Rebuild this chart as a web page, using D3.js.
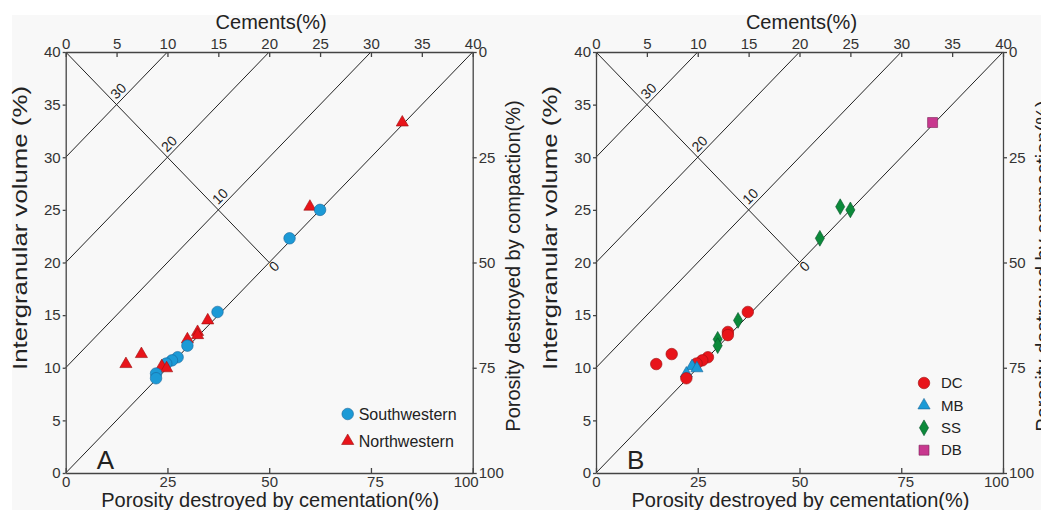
<!DOCTYPE html>
<meta charset="utf-8">
<head>
  <title>IGV vs cement</title>
  <style>
    body { margin: 0; background: #fff; }
    svg text { font-family: "Liberation Sans", Arial, sans-serif; fill: #222; }
    .axis path, .axis line { stroke: #444; stroke-width: 1.3px; }
    .axis text { font-size: 15px; fill: #333; }
    .iso { stroke: #222; stroke-width: 1px; }
  </style>
</head>
<body>
<div id="chart"></div>
<script src="https://cdnjs.cloudflare.com/ajax/libs/d3/7.8.5/d3.min.js"></script>
<script>
// porosity destroyed by cementation (%) and intergranular volume (%) per sample
var porCement = [82.7, 60.0, 62.5, 55.0, 37.3, 34.9, 32.4, 32.4, 29.9, 29.9, 27.5, 26.1, 24.7, 18.6, 14.8, 23.6, 24.8, 22.2, 22.2];
var igv       = [33.3, 25.3, 25.0, 22.3, 15.3, 14.5, 13.4, 13.1, 12.7, 12.1, 11.0, 10.7, 10.4, 11.3, 10.35, 10.15, 9.95, 9.45, 9.0];
var region    = ["NW","NW","SW","SW","SW","NW","NW","NW","NW","SW","SW","SW","SW","NW","NW","NW","NW","SW","SW"];
var facies    = ["DB","SS","SS","SS","DC","SS","DC","DC","SS","SS","DC","DC","DC","DC","DC","MB","MB","MB","DC"];

var regionKeys   = ["SW", "NW"];
var regionLabels = ["Southwestern", "Northwestern"];
var faciesKeys   = ["DC", "MB", "SS", "DB"];

var cementTicks = [0, 5, 10, 15, 20, 25, 30, 35, 40];
var igvTicks    = [0, 5, 10, 15, 20, 25, 30, 35, 40];
var lossTicks   = [0, 25, 50, 75, 100];
var isoLines    = [10, 20, 30, 40];

// marker styles
var styles = {
  SW: {shape: d3.symbolCircle,   size: 105, fill: "#1c9ad6", stroke: "#17649a"},
  NW: {shape: d3.symbolTriangle, size: 64,  fill: "#e8141a", stroke: "#9a1010"},
  DC: {shape: d3.symbolCircle,   size: 105, fill: "#e8141a", stroke: "#9a1010"},
  MB: {shape: d3.symbolTriangle, size: 64,  fill: "#1c9ad6", stroke: "#17649a"},
  SS: {shape: d3.symbolDiamond,  size: 72,  fill: "#0c8a3a", stroke: "#05532a"},
  DB: {shape: d3.symbolSquare,   size: 100, fill: "#c8388f", stroke: "#7a2458"}
};

var width = 1041, height = 510;
var W = 407, H = 421, plotTop = 52;

var svg = d3.select("#chart").append("svg")
  .attr("width", width)
  .attr("height", height);

svg.append("rect")
  .attr("x", 12).attr("y", 15)
  .attr("width", width - 12).attr("height", height - 15)
  .attr("fill", "#f8f8f8");

var points = porCement.map(function (v, i) {
  return {loss: v, igv: igv[i], region: region[i], facies: facies[i]};
});

function drawPanel(left, letter, groupKey, legendKeys, legendLabels, legX, legY) {
  var g = svg.append("g").attr("transform", "translate(" + left + "," + plotTop + ")");

  var xc = d3.scaleLinear().domain([0, 40]).range([0, W]);
  var xl = d3.scaleLinear().domain([0, 100]).range([0, W]);
  var y  = d3.scaleLinear().domain([0, 40]).range([H, 0]);
  var yc = d3.scaleLinear().domain([0, 100]).range([0, H]);

  // lines of equal cement
  g.selectAll("line.iso").data(isoLines).join("line")
    .attr("class", "iso")
    .attr("x1", function (d) { return xc(d); })
    .attr("y1", y(40))
    .attr("x2", xc(0))
    .attr("y2", function (d) { return y(40 - d); });

  g.append("line").attr("class", "iso")
    .attr("x1", xc(0)).attr("y1", y(40))
    .attr("x2", xc(20)).attr("y2", y(20));

  g.selectAll("text.iso-label").data(isoLines).join("text")
    .attr("class", "iso-label")
    .attr("transform", function (d) { return "translate(" + xc(d / 2) + "," + y(40 - d / 2) + ") rotate(-45)"; })
    .attr("x", function (d) { return d === 40 ? -3 : 3; })
    .attr("y", function (d) { return d === 40 ? 11 : -3.5; })
    .style("font-size", "14px")
    .text(function (d) { return 40 - d; });

  // axes
  g.append("g").attr("class", "axis")
    .call(d3.axisTop(xc).tickValues(cementTicks).tickSizeInner(-5).tickSizeOuter(0).tickPadding(3));
  var bottom = g.append("g").attr("class", "axis")
    .attr("transform", "translate(0," + H + ")")
    .call(d3.axisBottom(xl).tickValues(lossTicks).tickSizeInner(-5).tickSizeOuter(0).tickPadding(3));
  bottom.selectAll(".tick text").attr("dx", function (d) { return d === 100 ? -7 : (d === 75 ? 4 : 0); });
  g.append("g").attr("class", "axis")
    .call(d3.axisLeft(y).tickValues(igvTicks).tickSizeInner(3).tickSizeOuter(0).tickPadding(2));
  g.append("g").attr("class", "axis")
    .attr("transform", "translate(" + W + ",0)")
    .call(d3.axisRight(yc).tickValues(lossTicks).tickSizeInner(4).tickSizeOuter(0).tickPadding(2));

  // titles
  g.append("text").attr("x", W / 2 + 2).attr("y", 29 - plotTop)
    .attr("text-anchor", "middle").style("font-size", "20px")
    .text("Cements(%)");
  g.append("text").attr("x", W / 2 + 1).attr("y", 507 - plotTop)
    .attr("text-anchor", "middle").style("font-size", "20px")
    .text("Porosity destroyed by cementation(%)");
  g.append("text")
    .attr("transform", "translate(-39," + (228 - plotTop) + ") rotate(-90)")
    .attr("text-anchor", "middle").style("font-size", "20px")
    .attr("textLength", 284).attr("lengthAdjust", "spacingAndGlyphs")
    .text("Intergranular volume (%)");
  g.append("text")
    .attr("transform", "translate(" + (W + 47) + "," + (266 - plotTop) + ") rotate(-90)")
    .attr("text-anchor", "middle").style("font-size", "20px")
    .text("Porosity destroyed by compaction(%)");

  g.append("text").attr("x", 31).attr("y", H - 4)
    .style("font-size", "26px")
    .text(letter);

  // samples
  g.selectAll("path.pt").data(points).join("path")
    .attr("class", "pt")
    .attr("transform", function (d) { return "translate(" + xl(d.loss) + "," + y(d.igv) + ")"; })
    .attr("d", function (d) { var s = styles[d[groupKey]]; return d3.symbol(s.shape, s.size)(); })
    .attr("fill", function (d) { return styles[d[groupKey]].fill; })
    .attr("stroke", function (d) { return styles[d[groupKey]].stroke; })
    .attr("stroke-width", 0.6);

  // legend
  var wide = legendKeys.length > 2;
  var leg = g.append("g").attr("transform", "translate(" + legX + "," + legY + ")");
  var step = wide ? 22.4 : 27;
  legendKeys.forEach(function (k, i) {
    var s = styles[k];
    leg.append("path")
      .attr("transform", "translate(0," + (i * step) + ")")
      .attr("d", d3.symbol(s.shape, s.size)())
      .attr("fill", s.fill).attr("stroke", s.stroke).attr("stroke-width", 0.6);
    leg.append("text")
      .attr("x", wide ? 17 : 11).attr("y", i * step)
      .attr("dy", "0.35em").style("font-size", wide ? "15px" : "16px")
      .text(legendLabels[i]);
  });
}

drawPanel(65.7, "A", "region", regionKeys, regionLabels, 282, 362);
drawPanel(596, "B", "facies", faciesKeys, faciesKeys, 328, 331);
</script>
</body>
